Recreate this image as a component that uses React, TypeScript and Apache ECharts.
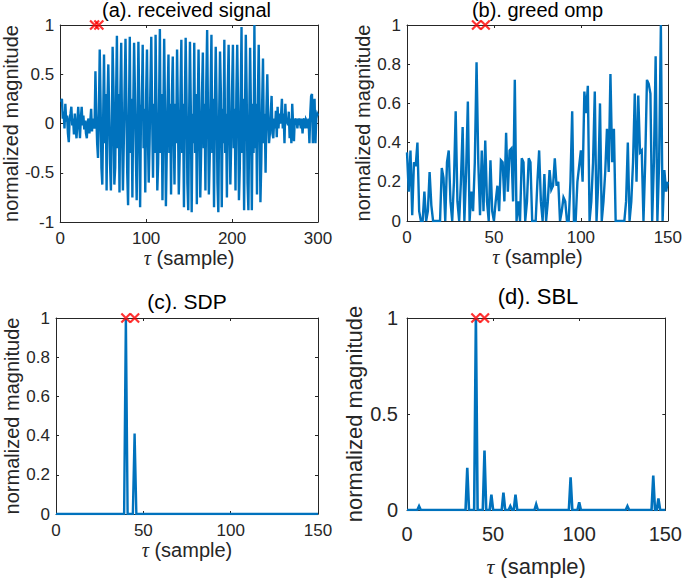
import React, { useEffect, useRef } from "react";
import * as echarts from "echarts";

// ---------- data ----------
// (a) received signal, samples 1..300
const receivedSignal = [
  0.22, 0.25, 0.05, 0.12, -0.05, 0.2, 0.02, 0.08, -0.1, -0.19,
  0.05, 0.1, 0.17, -0.02, 0.05, -0.11, 0.1, -0.05, -0.15, 0.02,
  0.17, 0.0, -0.15, 0.05, 0.17, -0.02, 0.08, -0.06, 0.03, -0.1,
  -0.15, 0.02, 0.05, -0.1, 0.02, 0.15, -0.08, 0.05, 0.0, -0.05,
  0.53, 0.1, -0.2, -0.35, 0.1,
  0.75, 0.2, -0.45, -0.62, 0.05,
  0.7, -0.2, 0.3, -0.68, 0.2,
  0.6, 0.1, -0.4, -0.68, -0.1,
  0.78, 0.35, -0.62, -0.45, 0.25,
  0.89, -0.25, 0.3, -0.7, 0.3,
  0.82, -0.1, -0.68, -0.2, 0.35,
  0.86, 0.2, -0.5, -0.83, 0.1,
  0.88, -0.3, 0.25, -0.75, 0.15,
  0.82, 0.3, -0.3, -0.78, -0.05,
  0.83, 0.2, -0.85, 0.1, 0.2,
  0.8, -0.25, 0.15, -0.7, 0.3,
  0.75, -0.1, -0.6, -0.2, 0.4,
  0.88, 0.1, -0.55, 0.2, -0.3,
  0.9, 0.2, -0.68, -0.4, 0.15,
  0.96, -0.3, 0.3, -0.78, 0.05,
  0.86, 0.1, -0.84, -0.3, 0.25,
  0.7, -0.3, 0.2, -0.72, 0.3,
  0.68, -0.05, -0.62, 0.2, -0.2,
  0.75, 0.1, -0.72, -0.35, 0.3,
  0.85, -0.3, 0.2, -0.85, 0.2,
  0.87, 0.25, -0.6, -0.88, 0.05,
  0.83, 0.15, -0.9, 0.1, -0.2,
  0.82, -0.3, 0.3, -0.82, 0.1,
  0.75, 0.05, -0.75, -0.3, 0.3,
  0.72, -0.25, 0.2, -0.68, 0.4,
  0.95, 0.1, -0.72, -0.35, 0.3,
  0.9, -0.3, 0.25, -0.85, 0.2,
  0.78, 0.2, -0.6, -0.9, 0.1,
  0.73, 0.3, -0.85, 0.15, -0.2,
  0.85, -0.3, 0.1, -0.75, 0.35,
  0.8, -0.05, -0.62, -0.2, 0.35,
  0.8, -0.25, 0.15, -0.68, 0.3,
  0.8, 0.2, -0.78, -0.45, 0.2,
  0.98, -0.3, 0.25, -0.88, 0.1,
  0.9, 0.3, -0.6, -0.88, 0.05,
  0.77, 0.1, -0.88, 0.2, -0.3,
  1.0, -0.25, 0.2, -0.72, 0.25,
  0.8, 0.15, -0.8, -0.4, 0.2,
  0.66, -0.2, 0.1, -0.5, 0.15,
  0.5, 0.05, -0.2, -0.1, 0.1,
  0.28, -0.1, -0.15, 0.05, -0.05,
  0.13, -0.14, 0.17, -0.05, 0.1,
  0.0, 0.08, 0.25, -0.05, 0.1,
  -0.2, 0.2, 0.0, 0.05, -0.02,
  0.12, -0.15, 0.05, -0.2, 0.2,
  0.0, -0.18, 0.05, 0.0, 0.05,
  -0.05, 0.05, 0.02, 0.05, -0.05,
  0.05, -0.1, 0.03, 0.05, -0.05,
  0.04, 0.02, -0.05, 0.05, -0.2,
  0.1, 0.28, 0.3, -0.2, 0.1,
  0.25, -0.2, 0.05, 0.1, 0.08,
];

// (b) greedy OMP, tau 0..150
const ompMagnitude = [
  0.35, 0.15, 0.36, 0.03, 0.3, 0.28, 0.4, 0.05, 0, 0,
  0.15, 0, 0.05, 0.25, 0.08, 0, 0, 0, 0, 0,
  0.27, 0.22, 0, 0.3, 0.36, 0.1, 0, 0.2, 0.56, 0.1,
  0, 0.2, 0.48, 0, 0.25, 0.61, 0, 0.15, 0.05, 0.3,
  0.81, 0.3, 0.03, 0.36, 0.05, 0.41, 0.1, 0, 0.31, 0.05,
  0, 0.1, 0.18, 0.05, 0.31, 0.3, 0.1, 0.45, 0.15, 0.36,
  0.37, 0.1, 0.72, 0, 0.1, 0, 0.32, 0.3, 0, 0.1,
  0.32, 0.3, 0, 0, 0, 0.2, 0.36, 0.1, 0, 0.24,
  0, 0.1, 0.26, 0.16, 0.18, 0.32, 0.18, 0.2, 0, 0.05,
  0.12, 0.1, 0, 0, 0.2, 0.56, 0, 0, 0.2, 0.28,
  0.36, 0.2, 0.66, 0.55, 0.69, 0, 0.1, 0.3, 0.66, 0,
  0.2, 0.6, 0, 0.1, 0.25, 0.47, 0.25, 0.75, 0.3, 0.47,
  0, 0, 0, 0, 0, 0, 0.1, 0.4, 0, 0.1,
  0.3, 0.65, 0.2, 0.64, 0.35, 0.36, 0, 0.3, 0.72, 0.7,
  0.65, 0, 0.3, 0.84, 0, 0.3, 1.0, 0, 0.26, 0.15,
  0.2,
];

// (c) SDP: nonzero taps (all other taus are 0)
const sdpTau = [40, 45];
const sdpValue = [1.0, 0.41];

// (d) SBL: nonzero taps (all other taus are 0)
const sblTau = [7, 35, 40, 45, 49, 56, 60, 63, 75, 95, 100, 128, 143, 146];
const sblValue = [0.02, 0.22, 1.0, 0.31, 0.08, 0.09, 0.02, 0.08, 0.03, 0.17, 0.04, 0.02, 0.18, 0.06];

// true delays (red crosses)
const trueTau = [40, 45];
const trueMark = [1, 1];

const titles = ["(a). received signal", "(b). greed omp", "(c). SDP", "(d). SBL"];
const yAxisName = "normalized magnitude";
const xAxisName = "{t|τ} (sample)";

const N_TAU = 151;

function sparseSeries(taus: number[], vals: number[]) {
  const out: number[][] = [];
  for (let i = 0; i < N_TAU; i++) {
    const k = taus.indexOf(i);
    out.push([i, k >= 0 ? vals[k] : 0]);
  }
  return out;
}

const FONT = "'Liberation Sans', Arial, Helvetica, sans-serif";
const AX = "#262626";
const BLUE = "#0072BD";

export default function App() {
  const ref = useRef<HTMLDivElement>(null);

  useEffect(() => {
    if (!ref.current) return;
    const chart = echarts.init(ref.current, undefined, { renderer: "svg" });

    const dataA = receivedSignal.map((v, i) => [i + 1, v]);
    const dataB = ompMagnitude.map((v, i) => [i, v]);
    const dataC = sparseSeries(sdpTau, sdpValue);
    const dataD = sparseSeries(sblTau, sblValue);
    const marks = trueTau.map((t, i) => [t, trueMark[i]]);

    const panels = [
      { left: 55, top: 25, width: 263, height: 197, xMax: 300, xInt: 100, yMin: -1, yMax: 1, yInt: 0.5,
        tick: 17, lab: 20, xMargin: 8, xGap: 24, yMargin: 6, yGap: 32, data: dataA,
        tx: 186.5, ty: 10, tfs: 20, lw: 2.4 },
      { left: 407, top: 25, width: 261, height: 196, xMax: 150, xInt: 50, yMin: 0, yMax: 1, yInt: 0.2,
        tick: 17, lab: 20, xMargin: 8, xGap: 23, yMargin: 6, yGap: 31, data: dataB,
        tx: 537.5, ty: 10, tfs: 20, lw: 2.4 },
      { left: 56, top: 318, width: 262, height: 196, xMax: 150, xInt: 50, yMin: 0, yMax: 1, yInt: 0.2,
        tick: 17, lab: 20, xMargin: 8, xGap: 24, yMargin: 6, yGap: 33, data: dataC,
        tx: 187, ty: 301, tfs: 21, lw: 2.4 },
      { left: 407, top: 318, width: 261, height: 196, xMax: 150, xInt: 50, yMin: 0, yMax: 1, yInt: 0.5,
        tick: 20, lab: 22, xMargin: 14, xGap: 45, yMargin: 9, yGap: 42, data: dataD,
        tx: 538, ty: 296, tfs: 22, lw: 2.6 },
    ];

    const grid: any[] = [];
    const xAxis: any[] = [];
    const yAxis: any[] = [];
    const series: any[] = [];
    const graphic: any[] = [];

    panels.forEach((p, i) => {
      grid.push({ left: p.left, top: p.top, width: p.width, height: p.height, containLabel: false });
      const line = { show: true, onZero: false, lineStyle: { color: AX, width: 1 } };
      const tick = { show: true, inside: true, length: 3, lineStyle: { color: AX, width: 1 } };
      xAxis.push({
        type: "value", gridIndex: i, position: "bottom", min: 0, max: p.xMax, interval: p.xInt,
        axisLine: line, axisTick: tick, splitLine: { show: false },
        axisLabel: { fontSize: p.tick, fontFamily: FONT, color: AX, margin: p.xMargin },
        name: xAxisName, nameLocation: "middle", nameGap: p.xGap,
        nameTextStyle: {
          fontSize: p.lab, fontFamily: FONT, color: AX,
          rich: { t: { fontSize: p.lab, fontStyle: "italic", fontFamily: "'Liberation Serif', 'DejaVu Serif', serif", color: AX } },
        },
      });
      xAxis.push({
        type: "value", gridIndex: i, position: "top", min: 0, max: p.xMax, interval: p.xInt,
        axisLine: line, axisTick: tick, splitLine: { show: false }, axisLabel: { show: false },
      });
      yAxis.push({
        type: "value", gridIndex: i, position: "left", min: p.yMin, max: p.yMax, interval: p.yInt,
        axisLine: line, axisTick: tick, splitLine: { show: false },
        axisLabel: { fontSize: p.tick, fontFamily: FONT, color: AX, margin: p.yMargin },
        name: yAxisName, nameLocation: "middle", nameGap: p.yGap,
        nameTextStyle: { fontSize: p.lab, fontFamily: FONT, color: AX },
      });
      yAxis.push({
        type: "value", gridIndex: i, position: "right", min: p.yMin, max: p.yMax, interval: p.yInt,
        axisLine: line, axisTick: tick, splitLine: { show: false }, axisLabel: { show: false },
      });
      series.push({
        type: "line", xAxisIndex: 2 * i, yAxisIndex: 2 * i, data: p.data,
        showSymbol: false, symbol: "none", clip: true,
        lineStyle: { color: BLUE, width: p.lw, join: "miter" }, z: 2,
      });
      series.push({
        type: "scatter", xAxisIndex: 2 * i, yAxisIndex: 2 * i, data: marks,
        symbol: "path://M0,0L10,10M10,0L0,10", symbolSize: 9, clip: false,
        itemStyle: { color: "none", borderColor: "#FF0000", borderWidth: 2.2 }, z: 5,
      });
      graphic.push({
        type: "text", x: p.tx, y: p.ty,
        style: { text: titles[i], fontSize: p.tfs, fontFamily: FONT, fill: "#000", align: "center", verticalAlign: "middle" },
      });
    });

    chart.setOption({
      animation: false,
      backgroundColor: "#ffffff",
      grid, xAxis, yAxis, series, graphic,
    });

    return () => chart.dispose();
  }, []);

  return (
    <div
      ref={ref}
      style={{ position: "absolute", left: 0, top: 0, width: 685, height: 578 }}
    />
  );
}
